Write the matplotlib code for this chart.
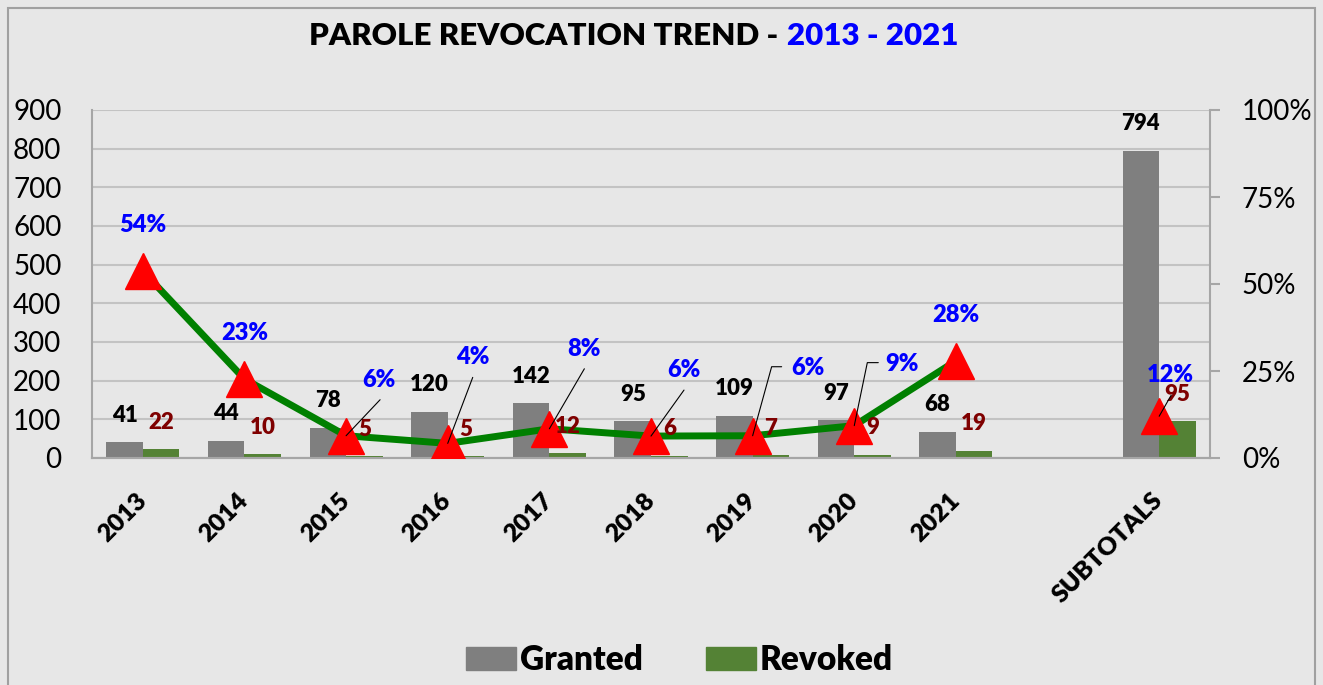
import matplotlib
matplotlib.use('Agg')
import matplotlib.pyplot as plt
import numpy as np
from matplotlib.patches import Patch, Rectangle

plt.rcParams['font.family'] = ['Lato', 'DejaVu Sans']

# Data
categories = ['2013', '2014', '2015', '2016', '2017', '2018', '2019', '2020', '2021', '', 'SUBTOTALS']
granted = [41, 44, 78, 120, 142, 95, 109, 97, 68, np.nan, 794]
revoked = [22, 10, 5, 5, 12, 6, 7, 9, 19, np.nan, 95]
revoke_rate = [0.537, 0.227, 0.064, 0.042, 0.084, 0.063, 0.064, 0.093, 0.279, np.nan, 0.120]

# percent label placement (pixels from the point): label, leader start, elbow
pct_layout = {
    0: ((0, 46), None, None),
    1: ((0, 46), None, None),
    2: ((33, 56), (34, 36), None),
    3: ((25, 86), (25, 66), None),
    4: ((35, 80), (35, 60), None),
    5: ((33, 66), (33, 46), None),
    6: ((55, 68), (29, 69), 74.6),
    7: ((48, 62), (24, 63), 78.3),
    8: ((0, 46), None, None),
    10: ((11, 41), (12, 21), None),
}

bg = '#e7e7e7'
grid_col = '#c3c3c3'
axis_col = '#a6a6a6'
c_granted = '#7f7f7f'
c_revoked = '#548235'
c_line = '#008000'
c_rev_lbl = '#7f0000'
c_blue = '#0000ff'
bold = 'heavy'

fig = plt.figure(figsize=(13.23, 6.85), dpi=100, facecolor=bg)
ax = fig.add_axes([92 / 1323, 1 - 458 / 685, (1210 - 92) / 1323, (458 - 110) / 685])
ax.set_facecolor(bg)
ax2 = ax.twinx()

x = np.arange(len(categories))
w = 0.36
ax.bar(x - w / 2, granted, w, color=c_granted, zorder=2)
ax.bar(x + w / 2, revoked, w, color=c_revoked, zorder=2)
ax.set_xlim(-0.5, 10.5)
ax.set_ylim(0, 900)
ax.set_yticks(range(0, 901, 100))
ax.yaxis.grid(True, color=grid_col, lw=1.5)
ax.set_axisbelow(True)

ax2.plot(x, revoke_rate, color=c_line, lw=5, marker='^', ms=26,
         mfc='red', mec='red', zorder=3)
ax2.set_ylim(0, 1)
ax2.set_yticks([0, 0.25, 0.5, 0.75, 1.0])
ax2.set_yticklabels(['0%', '25%', '50%', '75%', '100%'])

for a in (ax, ax2):
    a.spines['top'].set_visible(False)
    for s in ('left', 'right', 'bottom'):
        a.spines[s].set_color(axis_col)
        a.spines[s].set_linewidth(1.5)
ax.spines['right'].set_visible(False)
ax2.spines['left'].set_visible(False)

ax.tick_params(axis='y', length=0, pad=22, labelsize=20)
ax2.tick_params(axis='y', length=7, width=1.5, color=axis_col, pad=16, labelsize=20)
ax.set_xticks(x)
ax.set_xticklabels(categories)
ax.tick_params(axis='x', length=0, pad=28)
for lbl in ax.get_xticklabels():
    lbl.set_rotation(45)
    lbl.set_ha('right')
    lbl.set_va('center')
    lbl.set_rotation_mode('anchor')
    lbl.set_fontweight(bold)
    lbl.set_fontsize(18)

# bar value labels
for i in range(len(categories)):
    if np.isnan(granted[i]):
        continue
    ax2.annotate(f'{granted[i]:.0f}', xy=(x[i] - w / 2, granted[i]), xycoords=ax.transData,
                 xytext=(0, 27), textcoords='offset pixels', ha='center', va='center',
                 fontsize=16, fontweight=bold, color='black', zorder=5)
    ax2.annotate(f'{revoked[i]:.0f}', xy=(x[i] + w / 2, revoked[i]), xycoords=ax.transData,
                 xytext=(0, 27), textcoords='offset pixels', ha='center', va='center',
                 fontsize=16, fontweight=bold, color=c_rev_lbl, zorder=5)

# percent labels with leader lines
for i, (lbl_off, lead, elbow) in pct_layout.items():
    p = revoke_rate[i]
    if lead is not None:
        cs = 'arc3' if elbow is None else f'angle,angleA=0,angleB={elbow},rad=0'
        ax2.annotate('', xy=(x[i], p), xytext=lead, textcoords='offset pixels',
                     arrowprops=dict(arrowstyle='-', color='black', lw=0.8,
                                     shrinkA=0, shrinkB=0, connectionstyle=cs), zorder=6)
    ax2.annotate(f'{p:.0%}', xy=(x[i], p), xytext=lbl_off, textcoords='offset pixels',
                 ha='center', va='center', fontsize=17, fontweight=bold, color=c_blue, zorder=6)

# title in two colours
fig.text(778 / 1323, 1 - 36 / 685, 'PAROLE REVOCATION TREND -', ha='right', va='center',
         fontsize=22.5, fontweight=bold, color='black')
fig.text(787 / 1323, 1 - 36 / 685, '2013 - 2021', ha='left', va='center',
         fontsize=22.5, fontweight=bold, color=c_blue)

handles = [Patch(color=c_granted, label='Granted'), Patch(color=c_revoked, label='Revoked')]
fig.legend(handles=handles, loc='center', bbox_to_anchor=(0.5135, 0.0365), ncol=2,
           frameon=False, prop={'size': 24, 'weight': bold},
           handlelength=1.5, handleheight=0.67, handletextpad=0.12, columnspacing=1.9)

# outer chart border
fig.patches.append(Rectangle((8 / 1323, -0.1), (1315 - 8) / 1323, 1.1 - 8 / 685,
                             transform=fig.transFigure, fill=False, ec='#a0a0a0', lw=1.5))

fig.savefig('out.png', dpi=100, facecolor=bg)
